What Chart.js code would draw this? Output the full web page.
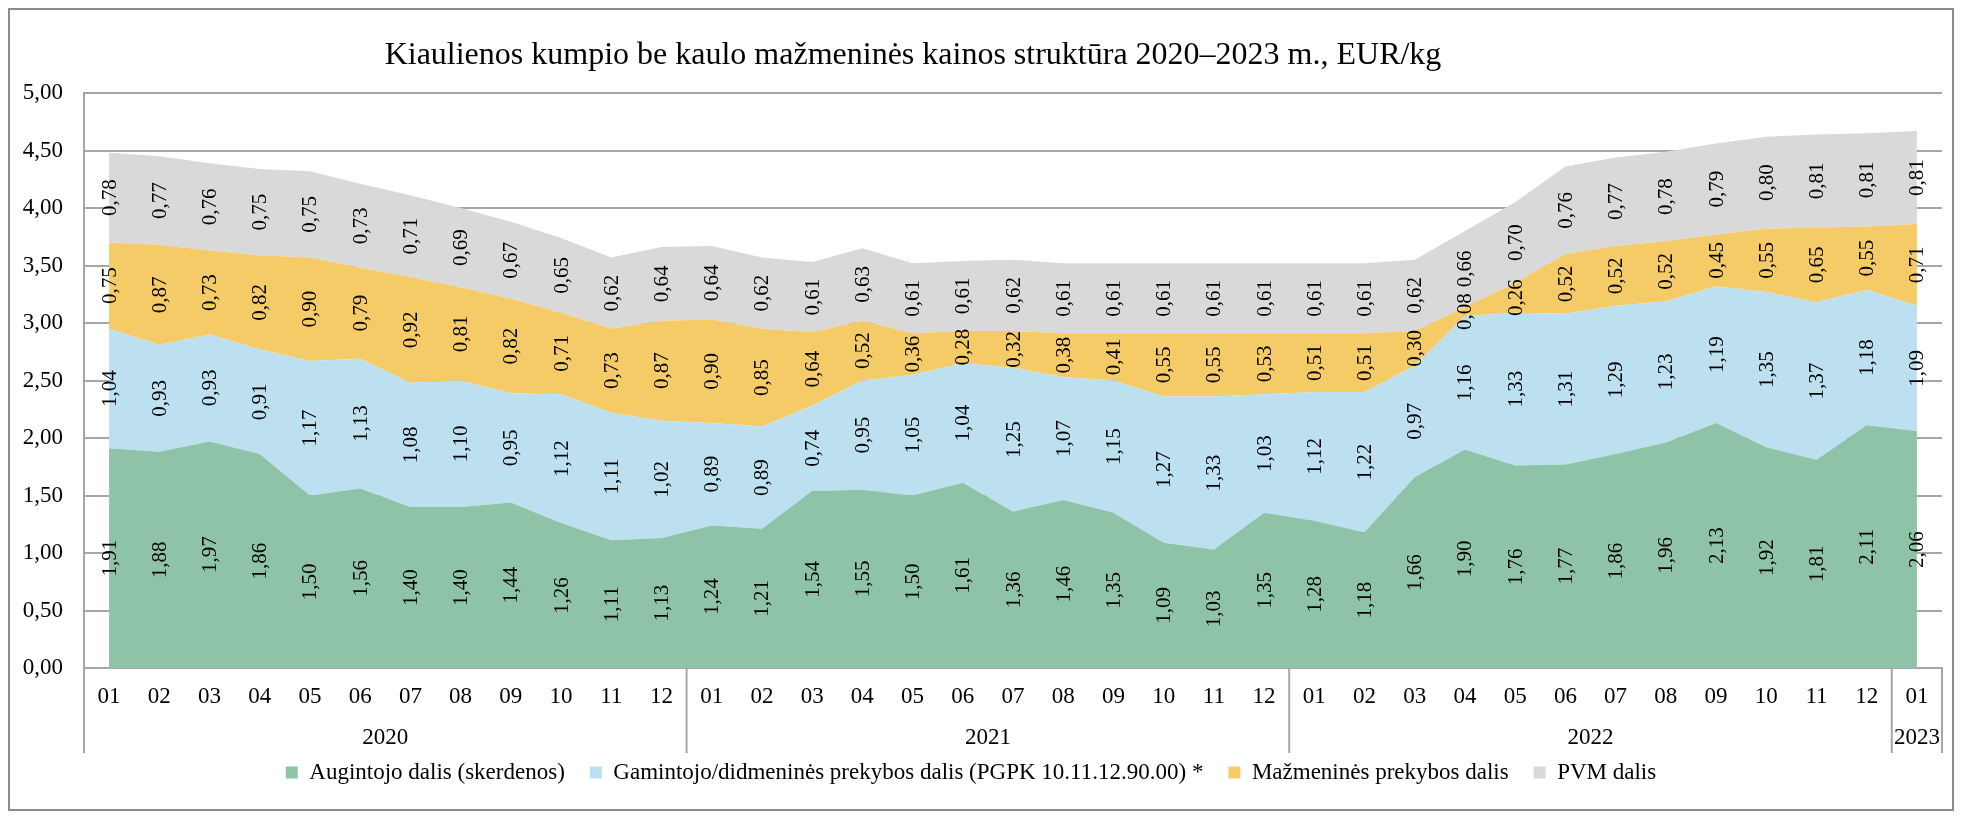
<!DOCTYPE html>
<html>
<head>
<meta charset="utf-8">
<script src="https://cdn.jsdelivr.net/npm/chart.js@4.4.0/dist/chart.umd.min.js"></script>
<style>
  html, body { margin: 0; padding: 0; background: #ffffff; }
  #wrap { position: absolute; left: 0; top: 0; width: 1964px; height: 816px; }
</style>
</head>
<body>
<div id="wrap"><canvas id="c" width="1964" height="816"></canvas></div>
<script>
// ---- data ----
const months = ['01','02','03','04','05','06','07','08','09','10','11','12',
                '01','02','03','04','05','06','07','08','09','10','11','12',
                '01','02','03','04','05','06','07','08','09','10','11','12',
                '01'];
const years = ['2020', '2021', '2022', '2023'];
const yearMonthCounts = [12, 12, 12, 1];

const augintojo = [1.91,1.88,1.97,1.86,1.50,1.56,1.40,1.40,1.44,1.26,1.11,1.13,
                   1.24,1.21,1.54,1.55,1.50,1.61,1.36,1.46,1.35,1.09,1.03,1.35,
                   1.28,1.18,1.66,1.90,1.76,1.77,1.86,1.96,2.13,1.92,1.81,2.11,
                   2.06];
const gamintojo = [1.04,0.93,0.93,0.91,1.17,1.13,1.08,1.10,0.95,1.12,1.11,1.02,
                   0.89,0.89,0.74,0.95,1.05,1.04,1.25,1.07,1.15,1.27,1.33,1.03,
                   1.12,1.22,0.97,1.16,1.33,1.31,1.29,1.23,1.19,1.35,1.37,1.18,
                   1.09];
const mazmenines = [0.75,0.87,0.73,0.82,0.90,0.79,0.92,0.81,0.82,0.71,0.73,0.87,
                    0.90,0.85,0.64,0.52,0.36,0.28,0.32,0.38,0.41,0.55,0.55,0.53,
                    0.51,0.51,0.30,0.08,0.26,0.52,0.52,0.52,0.45,0.55,0.65,0.55,
                    0.71];
const pvm = [0.78,0.77,0.76,0.75,0.75,0.73,0.71,0.69,0.67,0.65,0.62,0.64,
             0.64,0.62,0.61,0.63,0.61,0.61,0.62,0.61,0.61,0.61,0.61,0.61,
             0.61,0.61,0.62,0.66,0.70,0.76,0.77,0.78,0.79,0.80,0.81,0.81,
             0.81];
const seriesNames = ['Augintojo dalis (skerdenos)',
                     'Gamintojo/didmeninės prekybos dalis (PGPK 10.11.12.90.00) *',
                     'Mažmeninės prekybos dalis',
                     'PVM dalis'];
const titleText = 'Kiaulienos kumpio be kaulo mažmeninės kainos struktūra 2020–2023 m., EUR/kg';

// ---- styling ----
const FONT = "'Liberation Serif', 'Times New Roman', serif";
const colors = ['#8ec3a7', '#bde0f0', '#f5cb67', '#d9d9d9'];
const gridColor = '#a6a6a6';
const fmt = v => v.toFixed(2).replace('.', ',');

const seriesData = [augintojo, gamintojo, mazmenines, pvm];
const datasets = seriesData.map((d, i) => ({
  label: seriesNames[i],
  data: d,
  backgroundColor: colors[i],
  borderColor: colors[i],
  borderWidth: 0,
  pointRadius: 0,
  pointHoverRadius: 0,
  tension: 0,
  fill: i === 0 ? 'origin' : '-1'
}));

const framePlugin = {
  id: 'frame',
  beforeDraw(chart) {
    const ctx = chart.ctx;
    ctx.save();
    ctx.fillStyle = '#ffffff';
    ctx.fillRect(0, 0, chart.width, chart.height);
    ctx.strokeStyle = '#8c8c8c';
    ctx.lineWidth = 2;
    ctx.strokeRect(9, 9, 1944, 801);
    // title
    ctx.fillStyle = '#000000';
    ctx.font = "32px " + FONT;
    ctx.textAlign = 'center';
    ctx.textBaseline = 'alphabetic';
    ctx.fillText(titleText, 913, 64);
    ctx.restore();
  }
};

const labelPlugin = {
  id: 'stackLabels',
  afterDatasetsDraw(chart) {
    const ctx = chart.ctx;
    const xs = chart.scales.x, ys = chart.scales.y;
    ctx.save();
    ctx.fillStyle = '#000000';
    ctx.font = "21px " + FONT;
    ctx.textAlign = 'center';
    ctx.textBaseline = 'middle';
    for (let j = 0; j < months.length; j++) {
      let base = 0;
      for (let i = 0; i < seriesData.length; i++) {
        const v = seriesData[i][j];
        const x = xs.getPixelForValue(j);
        const y = ys.getPixelForValue(base + v / 2);
        ctx.save();
        ctx.translate(x, y);
        ctx.rotate(-Math.PI / 2);
        ctx.fillText(fmt(v), 0, 1);
        ctx.restore();
        base += v;
      }
    }
    ctx.restore();
  }
};

const yearAxisPlugin = {
  id: 'yearAxis',
  afterDraw(chart) {
    const ctx = chart.ctx;
    const xs = chart.scales.x;
    const top = chart.chartArea.bottom;
    const bottom = top + 85;
    const half = (xs.getPixelForValue(1) - xs.getPixelForValue(0)) / 2;
    ctx.save();
    ctx.strokeStyle = gridColor;
    ctx.lineWidth = 2;
    ctx.fillStyle = '#000000';
    ctx.font = "23px " + FONT;
    ctx.textAlign = 'center';
    ctx.textBaseline = 'middle';
    let start = 0;
    const edges = [xs.getPixelForValue(0) - half];
    for (let k = 0; k < years.length; k++) {
      const end = start + yearMonthCounts[k] - 1;
      const x0 = xs.getPixelForValue(start) - half;
      const x1 = xs.getPixelForValue(end) + half;
      edges.push(x1);
      ctx.fillText(years[k], (x0 + x1) / 2, top + 70);
      start = end + 1;
    }
    edges.forEach(ex => {
      ctx.beginPath();
      ctx.moveTo(ex, top);
      ctx.lineTo(ex, bottom);
      ctx.stroke();
    });
    ctx.restore();
  }
};

new Chart(document.getElementById('c'), {
  type: 'line',
  data: { labels: months, datasets },
  plugins: [framePlugin, labelPlugin, yearAxisPlugin],
  options: {
    responsive: false,
    animation: false,
    devicePixelRatio: 1,
    layout: { padding: { left: 0, right: 22, top: 93, bottom: 22 } },
    interaction: { mode: null },
    plugins: {
      title: { display: false },
      tooltip: { enabled: false },
      legend: {
        display: true,
        position: 'bottom',
        labels: {
          font: { family: FONT, size: 23 },
          color: '#000000',
          boxWidth: 12,
          boxHeight: 12,
          padding: 25
        }
      }
    },
    scales: {
      x: {
        type: 'category',
        offset: true,
        grid: { display: false, drawTicks: false },
        border: { display: true, color: gridColor, width: 2 },
        ticks: {
          autoSkip: false,
          maxRotation: 0,
          minRotation: 0,
          padding: 15,
          color: '#000000',
          font: { family: FONT, size: 23 }
        },
        afterFit(s) { s.height = 68; }
      },
      y: {
        stacked: true,
        min: 0,
        max: 5,
        ticks: {
          stepSize: 0.5,
          padding: 21,
          color: '#000000',
          font: { family: FONT, size: 23 },
          callback: v => fmt(v)
        },
        grid: { color: gridColor, lineWidth: 2, drawTicks: false },
        border: { display: true, color: gridColor, width: 2 },
        afterFit(s) { s.width = 84; }
      }
    }
  }
});
</script>
</body>
</html>
